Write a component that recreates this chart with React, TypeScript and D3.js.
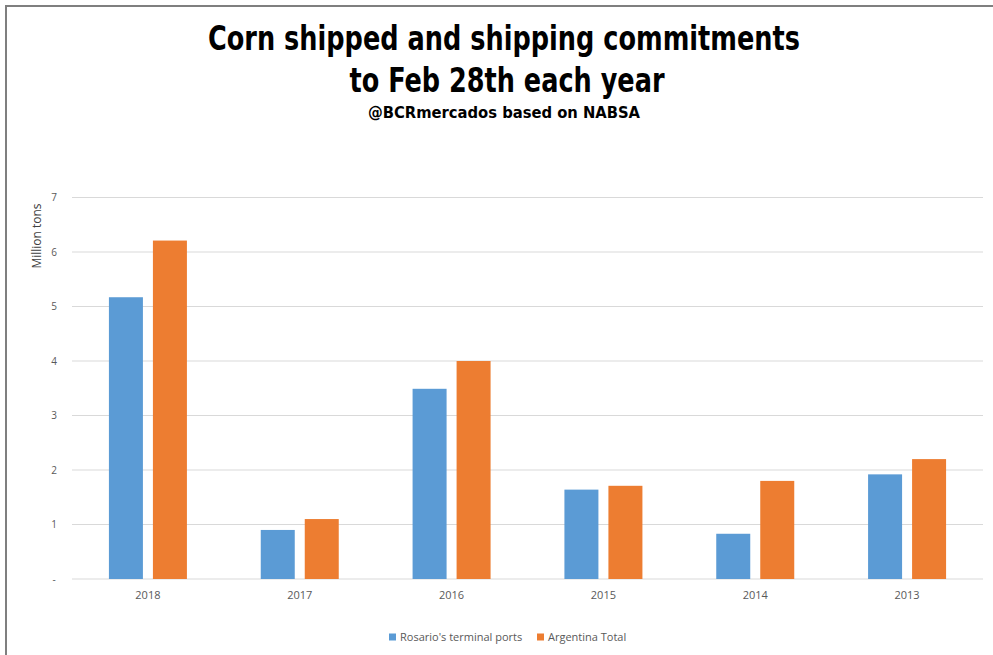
import React from "react";
import * as d3 from "d3";

const categories = ["2018", "2017", "2016", "2015", "2014", "2013"];
const seriesNames = ["Rosario's terminal ports", "Argentina Total"];
const rosario = [5.17, 0.9, 3.49, 1.64, 0.83, 1.92];
const argentina = [6.21, 1.1, 4.0, 1.71, 1.8, 2.2];
const yTicks = [0, 1, 2, 3, 4, 5, 6, 7];
const yTickLabels = ["-", "1", "2", "3", "4", "5", "6", "7"];
const colors = ["#5B9BD5", "#ED7D31"];

const W = 993;
const H = 655;
const left = 72;
const right = 983;
const top = 197.5;
const bottom = 579;

export default function App() {
  const x = d3.scaleBand<string>().domain(categories).range([left, right]).paddingInner(0).paddingOuter(0);
  const bw = x.bandwidth();
  const x1 = d3
    .scaleBand<string>()
    .domain(seriesNames)
    .range([bw / 2 - 39, bw / 2 + 39])
    .paddingInner(0.2273)
    .paddingOuter(0);
  const y = d3.scaleLinear().domain([0, 7]).range([bottom, top]);
  const data = [rosario, argentina];
  const axisFont = "'Open Sans', 'Liberation Sans', sans-serif";
  const titleFont = "'Liberation Sans Narrow', 'DejaVu Sans Condensed', sans-serif";

  return (
    <svg
      width={W}
      height={H}
      viewBox={`0 0 ${W} ${H}`}
      style={{ position: "absolute", left: 0, top: 0, display: "block", background: "#fff" }}
    >
      <rect x={0} y={0} width={W} height={H} fill="#fff" />
      {/* border */}
      <line x1={5} y1={6} x2={W} y2={6} stroke="#7f7f7f" strokeWidth={2} />
      <line x1={6} y1={5} x2={6} y2={H} stroke="#7f7f7f" strokeWidth={2} />

      {/* titles */}
      <text x={504} y={50} textAnchor="middle" fontFamily={titleFont} fontWeight="bold" fontSize={34} fill="#000" textLength={592} lengthAdjust="spacingAndGlyphs">
        Corn shipped and shipping commitments
      </text>
      <text x={507} y={92} textAnchor="middle" fontFamily={titleFont} fontWeight="bold" fontSize={34} fill="#000" textLength={315} lengthAdjust="spacingAndGlyphs">
        to Feb 28th each year
      </text>
      <text x={504} y={118} textAnchor="middle" fontFamily={titleFont} fontWeight="bold" fontSize={16} fill="#000" textLength={272} lengthAdjust="spacingAndGlyphs">
        @BCRmercados based on NABSA
      </text>

      {/* gridlines */}
      {yTicks.map((t) => (
        <line key={t} x1={left} x2={right} y1={y(t)} y2={y(t)} stroke="#d9d9d9" strokeWidth={1.2} />
      ))}
      {/* y tick labels */}
      {yTicks.map((t, i) => (
        <text key={t} x={54} y={y(t)} dy="0.35em" textAnchor="middle" fontFamily={axisFont} fontSize={10} fill="#595959">
          {yTickLabels[i]}
        </text>
      ))}
      <text
        transform={`translate(37, 236) rotate(-90)`}
        textAnchor="middle"
        dy="0.35em"
        fontFamily={axisFont}
        fontSize={12}
        fill="#404040"
      >
        Million tons
      </text>

      {/* bars */}
      {categories.map((c, ci) => (
        <g key={c} transform={`translate(${x(c)},0)`}>
          {seriesNames.map((s, si) => {
            const v = data[si][ci];
            return (
              <rect
                key={s}
                x={x1(s)}
                y={y(v)}
                width={x1.bandwidth()}
                height={y(0) - y(v)}
                fill={colors[si]}
              />
            );
          })}
          <text x={bw / 2} y={595} textAnchor="middle" dy="0.35em" fontFamily={axisFont} fontSize={11} fill="#595959">
            {c}
          </text>
        </g>
      ))}

      {/* legend */}
      {seriesNames.map((s, i) => {
        const lx = i === 0 ? 389 : 537;
        return (
          <g key={s} transform={`translate(${lx}, 637)`}>
            <rect x={0} y={-3.5} width={7} height={7} fill={colors[i]} />
            <text x={11} y={0} dy="0.35em" fontFamily={axisFont} fontSize={11} fill="#595959">
              {s}
            </text>
          </g>
        );
      })}
    </svg>
  );
}
